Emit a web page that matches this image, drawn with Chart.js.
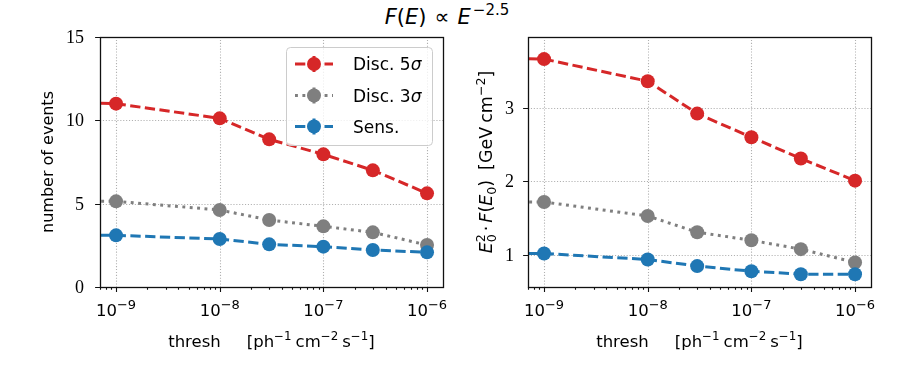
<!DOCTYPE html>
<html>
<head>
<meta charset="utf-8">
<script src="https://cdn.jsdelivr.net/npm/chart.js@4"></script>
<style>
  body { margin: 0; background: #fff; width: 900px; height: 375px; position: relative; overflow: hidden; }
  canvas { position: absolute; top: 0; }
  #title { position: absolute; left: 447px; top: 7px; transform: translateX(-50%); white-space: nowrap;
           font: 21px/21px "DejaVu Sans", sans-serif; color: #000; }
  #title i { font-style: italic; }
  #title .rel { display: inline-block; margin: 0 8px; font-style: normal; }
  #title sup { font-size: 15px; vertical-align: 9px; line-height: 0; margin-left: 2px; }
</style>
</head>
<body>
<div id="title"><i>F</i>(<i>E</i>)<span class="rel">∝</span><i>E</i><sup>−2.5</sup></div>
<canvas id="events" width="450" height="375" style="left:0"></canvas>
<canvas id="flux" width="450" height="375" style="left:450px"></canvas>
<script>
const SANS = '"DejaVu Sans", sans-serif';
const SERIF = '"Liberation Serif", serif';

// data (first point lies left of the visible range)
const thresh = [1e-10, 1e-9, 1e-8, 3e-8, 1e-7, 3e-7, 1e-6];
const disc5Events = [11.2, 11.0, 10.12, 8.86, 7.96, 7.0, 5.62];
const disc3Events = [5.2, 5.14, 4.62, 4.02, 3.64, 3.28, 2.52];
const sensEvents = [3.12, 3.1, 2.88, 2.56, 2.42, 2.22, 2.08];
const disc5Flux = [3.7, 3.66, 3.36, 2.92, 2.60, 2.31, 2.01];
const disc3Flux = [1.73, 1.72, 1.53, 1.31, 1.20, 1.08, 0.90];
const sensFlux = [1.03, 1.02, 0.94, 0.85, 0.78, 0.74, 0.74];

const seriesNames = ['Disc. 5', 'Disc. 3', 'Sens.'];
const xTicks = [1e-9, 1e-8, 1e-7, 1e-6];
const xTickExp = ['−9', '−8', '−7', '−6'];
const eventsTicks = [0, 5, 10, 15];
const fluxTicks = [1, 2, 3];

const RED = '#d62728', GRAY = '#7f7f7f', BLUE = '#1f77b4';
const DASHED = [10.3, 4.45], DOTTED = [2.9, 4.5];

function fontOf(p, size) {
  return (p.it ? 'italic ' : '') + size + 'px ' + (p.serif ? SERIF : SANS);
}

function partWidth(ctx, p, size) {
  if (p.gap) return p.gap;
  const small = p.small || size * 0.72;
  if (p.stack) {
    ctx.font = fontOf({}, small);
    return Math.max(ctx.measureText(p.stack[0]).width, ctx.measureText(p.stack[1]).width);
  }
  ctx.font = fontOf(p, p.sup || p.sub ? small : size);
  return ctx.measureText(p.t).width;
}

// draw a row of text pieces with super/subscripts on one baseline
function drawRich(ctx, parts, x, y, size, align) {
  const total = parts.reduce((s, p) => s + partWidth(ctx, p, size), 0);
  let cx = align === 'center' ? x - total / 2 : align === 'right' ? x - total : x;
  ctx.textAlign = 'left';
  ctx.textBaseline = 'alphabetic';
  ctx.fillStyle = '#000';
  parts.forEach(p => {
    const w = partWidth(ctx, p, size);
    const small = p.small || size * 0.72;
    if (p.stack) {
      ctx.font = fontOf({}, small);
      ctx.fillText(p.stack[0], cx, y - size * 0.42);
      ctx.fillText(p.stack[1], cx, y + size * 0.22);
    } else if (!p.gap) {
      ctx.font = fontOf(p, p.sup || p.sub ? small : size);
      const dy = p.sup ? -(p.raise || size * 0.42) : p.sub ? size * 0.22 : 0;
      ctx.fillText(p.t, cx, y + dy);
    }
    cx += w;
  });
}

const xLabel = [{t: 'thresh'}, {gap: 26}, {t: '[ph'}, {t: '−1', sup: true}, {gap: 4}, {t: 'cm'},
  {t: '−2', sup: true}, {gap: 4}, {t: 's'}, {t: '−1', sup: true}, {t: ']'}];

function series(label, data, color, dash) {
  return {
    label,
    data: thresh.map((t, i) => ({x: t, y: data[i]})),
    borderColor: color,
    backgroundColor: color,
    borderWidth: 3,
    borderDash: dash,
    borderCapStyle: 'butt',
    pointRadius: thresh.map((t, i) => (i === 0 ? 0 : 7)),
    pointHoverRadius: 0,
    pointBorderWidth: 0,
    tension: 0
  };
}

function axesPlugin(opts) {
  return {
    id: 'mplAxes',
    beforeDatasetsDraw(chart) {
      const {ctx, chartArea: a, scales: {x, y}} = chart;
      ctx.save();
      ctx.strokeStyle = '#b0b0b0';
      ctx.lineWidth = 1.1;
      ctx.setLineDash([1.1, 1.8]);
      ctx.beginPath();
      xTicks.forEach(v => {
        const px = Math.round(x.getPixelForValue(v)) + 0.5;
        ctx.moveTo(px, a.top); ctx.lineTo(px, a.bottom);
      });
      opts.yTicks.forEach(v => {
        const py = Math.round(y.getPixelForValue(v)) + 0.5;
        ctx.moveTo(a.left, py); ctx.lineTo(a.right, py);
      });
      ctx.stroke();
      ctx.restore();
    },
    afterDraw(chart) {
      const {ctx, chartArea: a, scales: {x, y}} = chart;
      ctx.save();
      ctx.strokeStyle = '#111';
      ctx.lineWidth = 1.3;
      ctx.strokeRect(a.left + 0.5, a.top + 0.5, a.right - a.left, a.bottom - a.top);

      // x ticks: majors with labels, minors short
      ctx.lineWidth = 1.1;
      ctx.beginPath();
      for (let e = -10; e <= -5; e++) {
        for (let m = 1; m <= 9; m++) {
          const v = m * Math.pow(10, e);
          if (v < x.min || v > x.max) continue;
          const px = Math.round(x.getPixelForValue(v)) + 0.5;
          ctx.moveTo(px, a.bottom); ctx.lineTo(px, a.bottom + (m === 1 ? 4.9 : 2.8));
        }
      }
      opts.yTicks.forEach(v => {
        const py = Math.round(y.getPixelForValue(v)) + 0.5;
        ctx.moveTo(a.left, py); ctx.lineTo(a.left - 4.9, py);
      });
      ctx.stroke();

      xTicks.forEach((v, i) => {
        drawRich(ctx, [{t: '10'}, {t: xTickExp[i], sup: true, raise: 7, small: 13}], x.getPixelForValue(v), a.bottom + 29, 16.5, 'center');
      });
      opts.yTicks.forEach(v => {
        drawRich(ctx, [{t: String(v), serif: true}], a.left - opts.yTickGap, y.getPixelForValue(v) + 6, 18, 'right');
      });

      drawRich(ctx, xLabel, (a.left + a.right) / 2, 347, 16.5, 'center');

      ctx.save();
      ctx.translate(opts.yLabelX, (a.top + a.bottom) / 2);
      ctx.rotate(-Math.PI / 2);
      drawRich(ctx, opts.yLabel, 0, 0, opts.yLabelSize, 'center');
      ctx.restore();

      if (opts.legend) drawLegend(ctx);
      ctx.restore();
    }
  };
}

function drawLegend(ctx) {
  const bx = 286.5, by = 47.5, bw = 146, bh = 98, r = 4;
  ctx.beginPath();
  ctx.roundRect(bx, by, bw, bh, r);
  ctx.fillStyle = 'rgba(255,255,255,0.8)';
  ctx.fill();
  ctx.strokeStyle = '#cccccc';
  ctx.lineWidth = 1;
  ctx.stroke();
  const rows = [
    {name: seriesNames[0], sigma: true, color: RED, dash: DASHED, y: 64},
    {name: seriesNames[1], sigma: true, color: GRAY, dash: DOTTED, y: 95.5},
    {name: seriesNames[2], sigma: false, color: BLUE, dash: DASHED, y: 126.5}
  ];
  rows.forEach(row => {
    ctx.strokeStyle = row.color;
    ctx.lineWidth = 3;
    ctx.setLineDash(row.dash);
    ctx.beginPath();
    ctx.moveTo(295, row.y); ctx.lineTo(333, row.y);
    ctx.stroke();
    ctx.setLineDash([]);
    ctx.beginPath();
    ctx.moveTo(314, row.y - 8); ctx.lineTo(314, row.y + 8);
    ctx.stroke();
    ctx.fillStyle = row.color;
    ctx.beginPath();
    ctx.arc(314, row.y, 7, 0, Math.PI * 2);
    ctx.fill();
    const parts = [{t: row.name}];
    if (row.sigma) parts.push({t: 'σ', it: true});
    drawRich(ctx, parts, 353, row.y + 6, 17, 'left');
  });
}

function makeChart(id, data, yMin, yMax, padding, plugin) {
  return new Chart(document.getElementById(id), {
    type: 'line',
    data: {
      datasets: [
        series(seriesNames[2], data[2], BLUE, DASHED),
        series(seriesNames[1], data[1], GRAY, DOTTED),
        series(seriesNames[0], data[0], RED, DASHED)
      ]
    },
    options: {
      responsive: false,
      animation: false,
      devicePixelRatio: 1,
      events: [],
      layout: {padding},
      plugins: {legend: {display: false}, tooltip: {enabled: false}, title: {display: false}},
      scales: {
        x: {type: 'logarithmic', display: false, min: Math.pow(10, -9.154), max: Math.pow(10, -5.846)},
        y: {type: 'linear', display: false, min: yMin, max: yMax}
      }
    },
    plugins: [plugin]
  });
}

makeChart('events', [disc5Events, disc3Events, sensEvents], 0, 15,
  {left: 100, right: 6, top: 37, bottom: 88},
  axesPlugin({
    yTicks: eventsTicks, yTickGap: 16, yLabelX: 53, yLabelSize: 16, legend: true,
    yLabel: [{t: 'number of events'}]
  }));

makeChart('flux', [disc5Flux, disc3Flux, sensFlux], 0.566, 3.96,
  {left: 78, right: 29, top: 37, bottom: 88},
  axesPlugin({
    yTicks: fluxTicks, yTickGap: 14, yLabelX: 42, yLabelSize: 17.5, legend: false,
    yLabel: [{t: 'E', it: true}, {stack: ['2', '0']}, {gap: 3}, {t: '·'}, {gap: 3}, {t: 'F', it: true}, {t: '('}, {t: 'E', it: true},
      {t: '0', sub: true}, {t: ')'}, {gap: 10}, {t: '[GeV'}, {gap: 4}, {t: 'cm'}, {t: '−2', sup: true}, {t: ']'}]
  }));
</script>
</body>
</html>
